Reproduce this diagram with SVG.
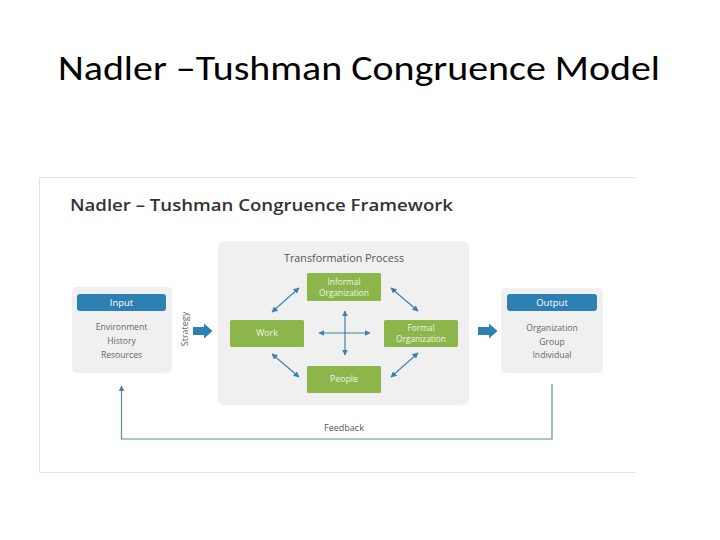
<svg xmlns="http://www.w3.org/2000/svg" width="720" height="540" viewBox="0 0 720 540">
<defs>
<style>
.box{fill:#f0f0f0}
.hdr{fill:#2f80b2}
.grn{fill:#8cb64c}
.lbl{font-family:"Open Sans","Liberation Sans",sans-serif;font-size:8.6px;fill:#666;text-anchor:middle}
.wt{font-family:"Open Sans","Liberation Sans",sans-serif;font-size:8.8px;fill:#eef5e4;text-anchor:middle}
.wt2{font-family:"Open Sans","Liberation Sans",sans-serif;font-size:8.3px;fill:#eef5e4;text-anchor:middle}
.hw{font-family:"Open Sans","Liberation Sans",sans-serif;font-size:9.5px;fill:#ffffff;text-anchor:middle}
.con{stroke:#3f80ab;stroke-width:1.2;fill:none}
.fb{stroke:#5d8ba8;stroke-width:1.2;fill:none}
</style>
<marker id="ah" viewBox="0 0 10 10" refX="9" refY="5" markerWidth="6" markerHeight="6" orient="auto-start-reverse" markerUnits="userSpaceOnUse">
<path d="M0,0 L10,5 L0,10 z" fill="#3f80ab"/>
</marker>
</defs>
<rect width="720" height="540" fill="#ffffff"/>
<text x="359" y="80" font-family="Carlito,'Liberation Sans',sans-serif" font-size="35" fill="#000" text-anchor="middle" textLength="602" lengthAdjust="spacingAndGlyphs">Nadler –Tushman Congruence Model</text>
<path d="M635,177.5 H39.5 V472.5 H635" fill="none" stroke="#e2e2e2" stroke-width="1"/>
<text x="70" y="211" font-family="'Open Sans','Liberation Sans',sans-serif" font-weight="600" font-size="16.5" fill="#333" textLength="383" lengthAdjust="spacingAndGlyphs">Nadler – Tushman Congruence Framework</text>
<g id="input">
<rect class="box" x="72" y="287" width="100" height="86" rx="5"/>
<rect class="hdr" x="77" y="294" width="89" height="17" rx="3"/>
<text class="hw" x="121.5" y="306">Input</text>
<text class="lbl" x="121.5" y="330">Environment</text>
<text class="lbl" x="121.5" y="344">History</text>
<text class="lbl" x="121.5" y="358">Resources</text>
</g>
<g id="strategy">
<text class="lbl" transform="translate(188,329) rotate(-90)" style="font-size:9px">Strategy</text>
<path d="M193,327 H204 V323.5 L212.5,331 L204,338.5 V335 H193 z" fill="#2f80b2"/>
</g>
<g id="transformation">
<rect class="box" x="218" y="241" width="251" height="164" rx="6"/>
<text class="lbl" x="344" y="262" style="font-size:10.8px;fill:#555">Transformation Process</text>
</g>
<g id="informal">
<rect class="grn" x="307" y="273" width="74" height="28" rx="1.5"/>
<text class="wt2" x="344" y="284.5">Informal</text>
<text class="wt2" x="344" y="295.5">Organization</text>
</g>
<g id="work">
<rect class="grn" x="230" y="320" width="74" height="27" rx="1.5"/>
<text class="wt" x="267" y="336">Work</text>
</g>
<g id="formal">
<rect class="grn" x="384" y="320" width="74" height="27" rx="1.5"/>
<text class="wt2" x="421" y="330.5">Formal</text>
<text class="wt2" x="421" y="341.5">Organization</text>
</g>
<g id="people">
<rect class="grn" x="307" y="366" width="74" height="27" rx="1.5"/>
<text class="wt" x="344" y="382">People</text>
</g>
<g id="output">
<rect class="box" x="501" y="288" width="102" height="85" rx="5"/>
<rect class="hdr" x="507" y="294" width="90" height="17" rx="3"/>
<text class="hw" x="552" y="306">Output</text>
<text class="lbl" x="552" y="331">Organization</text>
<text class="lbl" x="552" y="345">Group</text>
<text class="lbl" x="552" y="358">Individual</text>
</g>
<g id="connectors">
<path d="M478,327 H489 V323.5 L497.5,331 L489,338.5 V335 H478 z" fill="#2f80b2"/>
<line class="con" x1="272" y1="312" x2="299" y2="288" marker-start="url(#ah)" marker-end="url(#ah)"/>
<line class="con" x1="391" y1="288" x2="418" y2="311" marker-start="url(#ah)" marker-end="url(#ah)"/>
<line class="con" x1="272" y1="354" x2="299" y2="377" marker-start="url(#ah)" marker-end="url(#ah)"/>
<line class="con" x1="391" y1="377" x2="418" y2="353" marker-start="url(#ah)" marker-end="url(#ah)"/>
<line class="con" x1="345" y1="311" x2="345" y2="355" marker-start="url(#ah)" marker-end="url(#ah)"/>
<line class="con" x1="319" y1="333" x2="370" y2="333" marker-start="url(#ah)" marker-end="url(#ah)"/>
<path class="fb" d="M552,384 V439 H121.5 V386" marker-end="url(#ah)"/>
<text class="lbl" x="344" y="431" style="fill:#555;font-size:9px">Feedback</text>
</g>
</svg>
